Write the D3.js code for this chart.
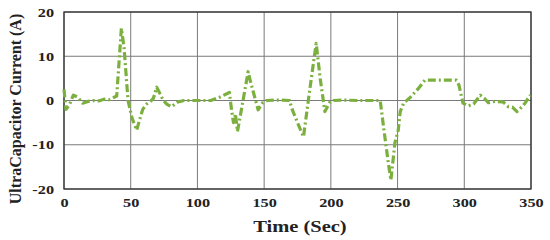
<!DOCTYPE html>
<html><head><meta charset="utf-8">
<script src="https://cdn.jsdelivr.net/npm/d3@7"></script>
<style>body{margin:0;background:#fff}svg{display:block}</style>
</head><body>
<svg id="c" width="550" height="240"></svg>
<script>
const timeSec = [0,1.5,4,7,10,14,18,22,26,30,34,38,39.5,43,45,48,51,54.5,57,59,62,64.5,67,69.5,72,74.5,77,80.5,85.5,90,100,110,117,124,125.5,127,128.5,130,133,138,140,145.5,149,152,160,169,171,175,179.5,184,189,192,195.5,199,202,210,220,237,239.5,243,245,248,250.5,252,254.5,259.5,265,270.5,294,296,299,303,307,312,315,318,323,329,333,336,339.5,343,345.5,349.5];
const currentA = [2.5,-2,-1,1.2,0.8,-0.6,-0.2,0,-0.1,0.3,0.2,0.8,1,16.3,12,0,-4,-6.7,-4,-2,-0.8,-0.3,0.5,3,1.5,0,-0.8,-1.4,-0.3,0,0,0,0.8,1.8,-2,-5,-3,-7,-2,6.5,4,-2.1,-0.5,0,0.1,0,-2,-5,-8.2,2,12.9,5,-2.5,-0.5,0,0.1,0,0,-6,-14,-18,-9.6,-6.7,-2.5,-0.6,0.7,2.5,4.6,4.6,3.5,-0.6,-1.2,-0.8,1.2,0.5,-0.5,-0.2,-0.3,-1.4,-1.5,-2.5,-1.5,-0.6,1.2];
const xTicks = [0,50,100,150,200,250,300,350];
const yTicks = [-20,-10,0,10,20];
const xLabel = "Time (Sec)";
const yLabel = "UltraCapacitor Current (A)";

const svg = d3.select("#c");
const L=64, R=531, T=12, B=189;
const x = d3.scaleLinear().domain([0,350]).range([L,R]);
const y = d3.scaleLinear().domain([-20,20]).range([B,T]);
const font = "'Liberation Serif','Times New Roman',serif";

// grid
svg.append("g").selectAll("line").data(xTicks).join("line")
  .attr("x1",d=>x(d)).attr("x2",d=>x(d)).attr("y1",T).attr("y2",B)
  .attr("stroke","#7a7a7a").attr("stroke-width",1);
svg.append("g").selectAll("line").data(yTicks).join("line")
  .attr("x1",L).attr("x2",R).attr("y1",d=>y(d)).attr("y2",d=>y(d))
  .attr("stroke","#7a7a7a").attr("stroke-width",1);

// axes
const xa = svg.append("g").attr("transform",`translate(0,${B})`)
  .call(d3.axisBottom(x).tickValues(xTicks).tickFormat(d=>String(d)).tickSize(0).tickPadding(9));
const ya = svg.append("g").attr("transform",`translate(${L},0)`)
  .call(d3.axisLeft(y).tickValues(yTicks).tickFormat(d=>String(d)).tickSize(0).tickPadding(8));
[xa,ya].forEach(a=>{
  a.select(".domain").remove();
  a.selectAll("text").attr("font-family",font).attr("font-weight","bold").attr("font-size",13).attr("fill","#222")
    .attr("transform","scale(1.25,1)");
});

// box
svg.append("rect").attr("x",L).attr("y",T).attr("width",R-L).attr("height",B-T)
  .attr("fill","none").attr("stroke","#333").attr("stroke-width",1.3);

// line
const line = d3.line().x((d,i)=>x(timeSec[i])).y(d=>y(d));
svg.append("path").datum(currentA).attr("d",line)
  .attr("fill","none").attr("stroke","#7cb03e").attr("stroke-width",3.2)
  .attr("stroke-dasharray","8,3,2,3").attr("stroke-linejoin","round");

// labels
svg.append("text").attr("transform","translate(300,232) scale(1.28,1)").attr("text-anchor","middle")
  .attr("font-family",font).attr("font-weight","bold").attr("font-size",16).attr("fill","#222").text(xLabel);
svg.append("text").attr("transform",`translate(21,109) rotate(-90)`).attr("text-anchor","middle")
  .attr("font-family",font).attr("font-weight","bold").attr("font-size",16).attr("fill","#222").text(yLabel);
</script>
</body></html>
